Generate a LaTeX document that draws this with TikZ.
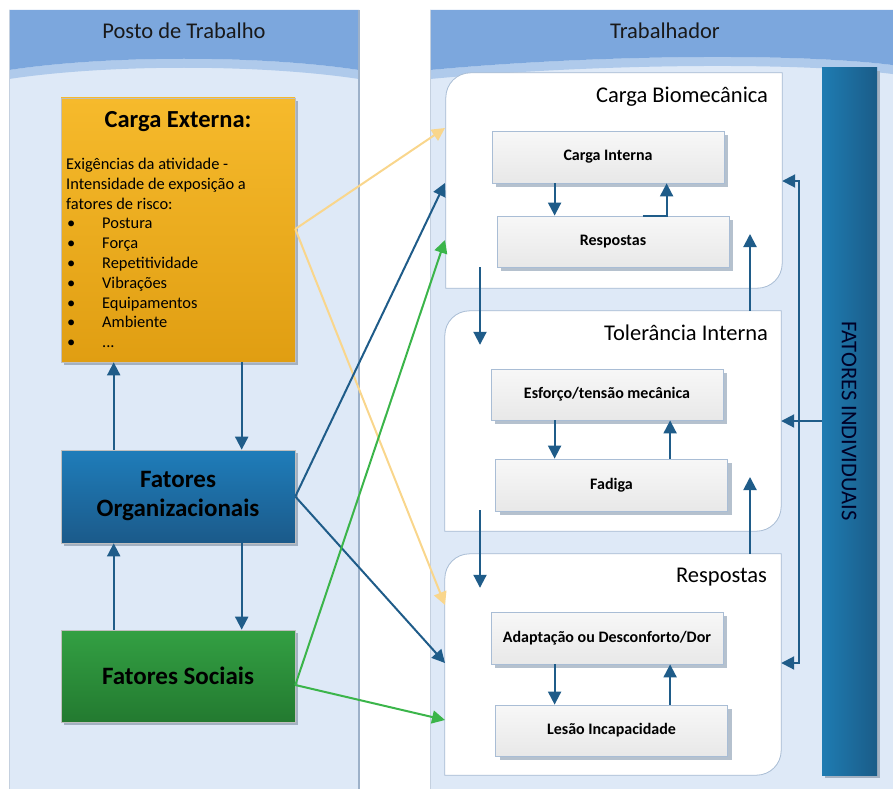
\documentclass[tikz,border=0pt]{standalone}
\usepackage{fontspec}
\setmainfont{Carlito}
\usetikzlibrary{positioning,calc,arrows.meta,shadows}

\definecolor{headblue}{HTML}{7CA7DD}
\definecolor{bandblue}{HTML}{AFCAEB}
\definecolor{paneblue}{HTML}{DEE9F7}
\definecolor{edgeblue}{HTML}{9DB1C9}
\definecolor{flowblue}{HTML}{1F5C89}
\definecolor{flowyellow}{HTML}{F9D68C}
\definecolor{flowgreen}{HTML}{3BB54A}
\definecolor{shadowgray}{HTML}{A3B1C2}
\definecolor{boxline}{HTML}{A9BDD5}

\newcommand{\bul}{\makebox[36pt][l]{\hspace{1pt}\textbullet}}

% box with two rounded corners (top left, bottom right)
\newcommand{\cornerbox}[1]{%
  \fill[shadowgray!70, xshift=4pt, yshift=-4pt] let \p1=(#1.north west), \p2=(#1.south east) in
    (\x1,\y2) -- (\x1,\y1-25pt) .. controls (\x1,\y1-11pt) and (\x1+11pt,\y1) .. (\x1+25pt,\y1)
    -- (\x2,\y1) -- (\x2,\y2+25pt) .. controls (\x2,\y2+11pt) and (\x2-11pt,\y2) .. (\x2-25pt,\y2) -- cycle;
  \draw[boxline, fill=white, line width=0.8pt] let \p1=(#1.north west), \p2=(#1.south east) in
    (\x1,\y2) -- (\x1,\y1-25pt) .. controls (\x1,\y1-11pt) and (\x1+11pt,\y1) .. (\x1+25pt,\y1)
    -- (\x2,\y1) -- (\x2,\y2+25pt) .. controls (\x2,\y2+11pt) and (\x2-11pt,\y2) .. (\x2-25pt,\y2) -- cycle;
}

\tikzset{
  flow/.style={flowblue, line width=2pt, -{Triangle[length=13pt,width=13pt]}},
  crossyellow/.style={flowyellow, line width=2pt, -{Triangle[length=13pt,width=13pt]}},
  crossgreen/.style={flowgreen, line width=2pt, -{Triangle[length=13pt,width=13pt]}},
  crossblue/.style={flowblue, line width=2pt, -{Triangle[length=13pt,width=13pt]}},
  bigbox/.style={rectangle, draw=black!25, line width=0.6pt, minimum width=234pt,
    drop shadow={shadow xshift=3pt, shadow yshift=-3pt, fill=shadowgray, opacity=1},
    font=\fontsize{25}{29}\selectfont\bfseries, align=center},
  greybox/.style={rectangle, draw=boxline, line width=0.8pt, top color=white!97!black,
    bottom color=black!9, minimum width=232pt, minimum height=52pt,
    drop shadow={shadow xshift=4pt, shadow yshift=-4pt, fill=shadowgray!80, opacity=1},
    font=\fontsize{16}{18}\selectfont\bfseries},
  holder/.style={rectangle, inner sep=0pt},
  heading/.style={anchor=east, inner sep=0pt, font=\fontsize{22.5}{26}\selectfont},
  panetitle/.style={inner sep=0pt, font=\fontsize{22.5}{26}\selectfont, text=black!90},
}

\begin{document}
\begin{tikzpicture}[x=1pt, y=-1pt]
\useasboundingbox (0,0) rectangle (893,789);

% panels
\fill[paneblue] (9,10) rectangle (359,789);
\fill[paneblue] (430,10) rectangle (900,789);
\fill[bandblue] (9,70) .. controls (108,55) and (260,55) .. (359,70) -- (359,79)
  .. controls (260,64) and (108,64) .. (9,79) -- cycle;
\fill[headblue] (9,10) -- (359,10) -- (359,70) .. controls (260,55) and (108,55) .. (9,70) -- cycle;
\fill[bandblue] (430,70) .. controls (590,55) and (800,52) .. (900,66) -- (900,75)
  .. controls (800,61) and (590,64) .. (430,79) -- cycle;
\fill[headblue] (430,10) -- (900,10) -- (900,66) .. controls (800,52) and (590,55) .. (430,70) -- cycle;
\draw[edgeblue!60, line width=0.8pt] (9,10) -- (9,789);
\draw[edgeblue, line width=1.6pt] (359,10) -- (359,789);
\draw[edgeblue!60, line width=0.8pt] (430,10) -- (430,789);

\node[panetitle] (posto) at (184,31) {Posto de Trabalho};
\node[panetitle] (trab) at (665,31) {Trabalhador};

% left column
\node[bigbox, minimum height=264pt,
  top color={rgb,255:red,246;green,186;blue,44}, bottom color={rgb,255:red,224;green,158;blue,18}]
  (ce) at (178,230) {};
\node[inner sep=0pt, font=\fontsize{24.5}{29}\selectfont\bfseries] (cetitle) at (178,122) {Carga Externa:};
\node[anchor=north west, align=left, inner sep=0pt, font=\fontsize{16.4}{19.8}\selectfont] (celist) at (66,158)
  {Exigências da atividade -\\Intensidade de exposição a\\fatores de risco:\\
   \bul Postura\\ \bul Força\\ \bul Repetitividade\\ \bul Vibrações\\ \bul Equipamentos\\ \bul Ambiente\\ \bul ...};

\node[bigbox, minimum height=93pt, top color={rgb,255:red,31;green,125;blue,186},
  bottom color={rgb,255:red,27;green,90;blue,138}] (fo) at (178,496.5) {Fatores\\Organizacionais};
\node[bigbox, minimum height=92pt, top color={rgb,255:red,51;green,160;blue,67},
  bottom color={rgb,255:red,35;green,122;blue,48}] (fs) at (178,676) {Fatores Sociais};

\draw[flow] ([xshift=53pt]fo.north west) -- ([xshift=53pt]fo.north west |- ce.south);
\draw[flow] ([xshift=181pt]ce.south west) -- ([xshift=181pt]ce.south west |- fo.north);
\draw[flow] ([xshift=53pt]fs.north west) -- ([xshift=53pt]fs.north west |- fo.south);
\draw[flow] ([xshift=181pt]fo.south west) -- ([xshift=181pt]fo.south west |- fs.north);

% right column: rounded boxes
\node[holder, minimum width=336pt, minimum height=215pt] (bm) at (614,180.5) {};
\node[holder, minimum width=336pt, minimum height=220pt] (ti) at (613,421) {};
\node[holder, minimum width=336pt, minimum height=221pt] (rp) at (613,664.5) {};
\cornerbox{bm}
\cornerbox{ti}
\cornerbox{rp}
\node[heading] (bmtitle) at ([xshift=-14pt, yshift=-24pt]bm.north east) {Carga Biomecânica};
\node[heading] (tititle) at ([xshift=-13pt, yshift=-22pt]ti.north east) {Tolerância Interna};
\node[heading] (rptitle) at ([xshift=-14pt, yshift=-23pt]rp.north east) {Respostas};

% individual factors bar
\node[rectangle, minimum width=55pt, minimum height=707pt, left color={rgb,255:red,31;green,124;blue,178},
  right color={rgb,255:red,26;green,92;blue,136},
  drop shadow={shadow xshift=3pt, shadow yshift=-3pt, fill=shadowgray, opacity=1}] (fi) at (849.5,421.5) {};
\node[rotate=-90, inner sep=0pt, font=\fontsize{22.5}{26}\selectfont, text=black!85!blue] (fitext) at (849,421) {FATORES INDIVIDUAIS};

% inner boxes
\node[greybox] (ci) at (608,157) {Carga Interna};
\node[greybox, minimum height=51pt] (ri) at (613,241.5) {Respostas};
\node[greybox, minimum height=51pt] (es) at (607,394.5) {Esforço/tensão mecânica};
\node[greybox] (fa) at (611.5,485) {Fadiga};
\node[greybox] (ad) at (607,638) {Adaptação ou Desconforto/Dor};
\node[greybox, minimum height=51pt] (le) at (611.5,730.5) {Lesão Incapacidade};

\draw[flow] ([xshift=63pt]ci.south west) -- ([xshift=63pt]ci.south west |- ri.north);
\draw[flow] ([xshift=146pt]ri.north west) -- ([xshift=170pt]ri.north west) -- ([xshift=170pt]ri.north west |- ci.south);
\draw[flow] ([xshift=64pt]es.south west) -- ([xshift=64pt]es.south west |- fa.north);
\draw[flow] ([xshift=175pt]fa.north west) -- ([xshift=175pt]fa.north west |- es.south);
\draw[flow] ([xshift=64pt]ad.south west) -- ([xshift=64pt]ad.south west |- le.north);
\draw[flow] ([xshift=175pt]le.north west) -- ([xshift=175pt]le.north west |- ad.south);

% links between the rounded boxes
\coordinate (d1) at (480,267);
\coordinate (d2) at (480,510);
\coordinate (u1) at (750,234);
\coordinate (u2) at (750,477);
\draw[flow] (d1) -- (d1 |- ti.north) -- ++(0,34);
\draw[flow] (d2) -- (d2 |- rp.north) -- ++(0,34);
\draw[flow] (u1 |- ti.north) -- (u1);
\draw[flow] (u2 |- rp.north) -- (u2);

% feedback from individual factors
\coordinate (fb1) at (799,181);
\coordinate (fb2) at (799,663);
\draw[flow] (fb2) -- (fb1) -- (fb1 -| bm.east);
\draw[flow] (fb1) -- (fb2) -- (fb2 -| rp.east);
\draw[flow] (fi.west |- ti.east) -- (ti.east);

% cross links
\coordinate (ybm) at (445,128);
\coordinate (yrp) at (445,605);
\coordinate (bbm) at (445,183);
\coordinate (brp) at (445,663);
\coordinate (gbm) at (445,240);
\coordinate (grp) at (445,720);
\draw[crossyellow] ([yshift=1pt]ce.east) -- (ybm);
\draw[crossyellow] ([yshift=1pt]ce.east) -- (yrp);
\draw[crossblue] (fo.east) -- (bbm);
\draw[crossblue] (fo.east) -- (brp);
\draw[crossgreen] ([yshift=-9pt]fs.east) -- (gbm);
\draw[crossgreen] ([yshift=-9pt]fs.east) -- (grp);
\end{tikzpicture}
\end{document}
